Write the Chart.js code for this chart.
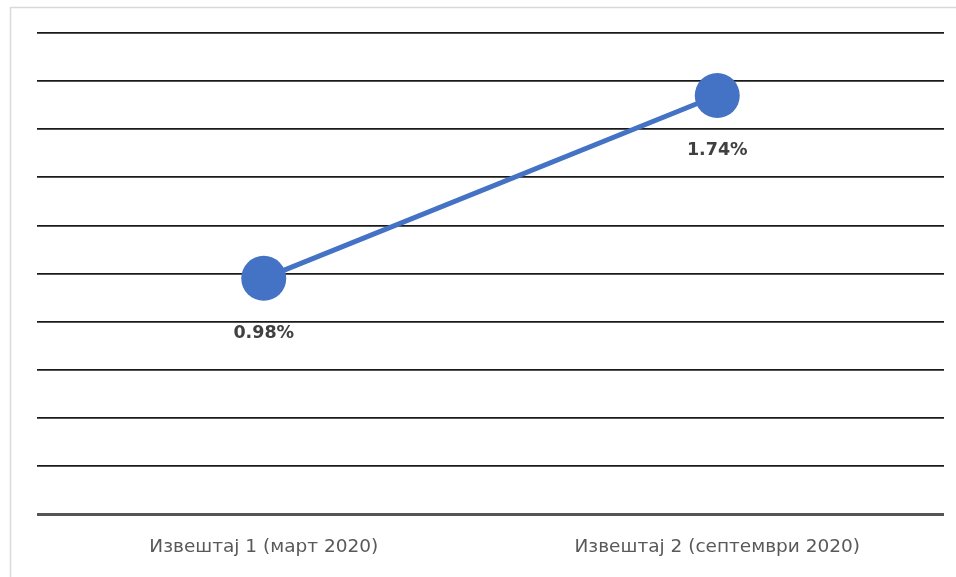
<!DOCTYPE html>
<html>
<head>
<meta charset="utf-8">
<script src="https://cdn.jsdelivr.net/npm/chart.js@4/dist/chart.umd.min.js"></script>
<style>
html,body{margin:0;padding:0;background:#fff;}
#wrap{position:relative;width:956px;height:577px;}
canvas{display:block;}
</style>
</head>
<body>
<div id="wrap"><canvas id="c" width="956" height="577"></canvas></div>
<script>
const categories = ["Извештај 1 (март 2020)", "Извештај 2 (септември 2020)"];
const values = [0.98, 1.74];
const valueLabels = ["0.98%", "1.74%"];
const yMin = 0, yMax = 2, yStep = 0.2;

const frame = {
  id: 'frame',
  beforeDraw(chart) {
    const ctx = chart.ctx;
    ctx.save();
    ctx.strokeStyle = '#d9d9d9';
    ctx.lineWidth = 1.5;
    ctx.beginPath();
    ctx.moveTo(10.5, 600);
    ctx.lineTo(10.5, 7.5);
    ctx.lineTo(960, 7.5);
    ctx.stroke();
    ctx.restore();
  }
};

const dataLabels = {
  id: 'dataLabels',
  afterDatasetsDraw(chart) {
    const ctx = chart.ctx;
    const meta = chart.getDatasetMeta(0);
    ctx.save();
    ctx.font = 'bold 17.5px "DejaVu Sans"';
    ctx.fillStyle = '#404040';
    ctx.textAlign = 'center';
    ctx.textBaseline = 'middle';
    meta.data.forEach((pt, i) => {
      ctx.fillText(valueLabels[i], pt.x, pt.y + 55);
    });
    ctx.restore();
  }
};

new Chart(document.getElementById('c'), {
  type: 'line',
  data: {
    labels: categories,
    datasets: [{
      data: values,
      borderColor: '#4472C4',
      backgroundColor: '#4472C4',
      borderWidth: 5,
      pointRadius: 22.5,
      pointBackgroundColor: '#4472C4',
      pointBorderWidth: 0,
      tension: 0
    }]
  },
  options: {
    responsive: false,
    animation: false,
    events: [],
    layout: { autoPadding: false, padding: { left: 37, right: 12, top: 33, bottom: 0 } },
    plugins: { legend: { display: false }, tooltip: { enabled: false } },
    scales: {
      x: {
        offset: true,
        grid: { display: false, drawTicks: false },
        border: { display: false },
        ticks: { color: '#595959', font: { family: '"DejaVu Sans"', size: 18.5 }, padding: 22, maxRotation: 0, autoSkip: false },
        afterFit(scale) {
          scale.height = 63;
          scale.paddingLeft = 0;
          scale.paddingRight = 0;
        }
      },
      y: {
        min: yMin, max: yMax,
        ticks: { display: false, stepSize: yStep },
        border: { display: false },
        grid: {
          drawTicks: false,
          color: (c) => c.index === 0 ? '#555555' : '#1a1a1a',
          lineWidth: (c) => c.index === 0 ? 3 : 1.7
        }
      }
    }
  },
  plugins: [frame, dataLabels]
});
</script>
</body>
</html>
